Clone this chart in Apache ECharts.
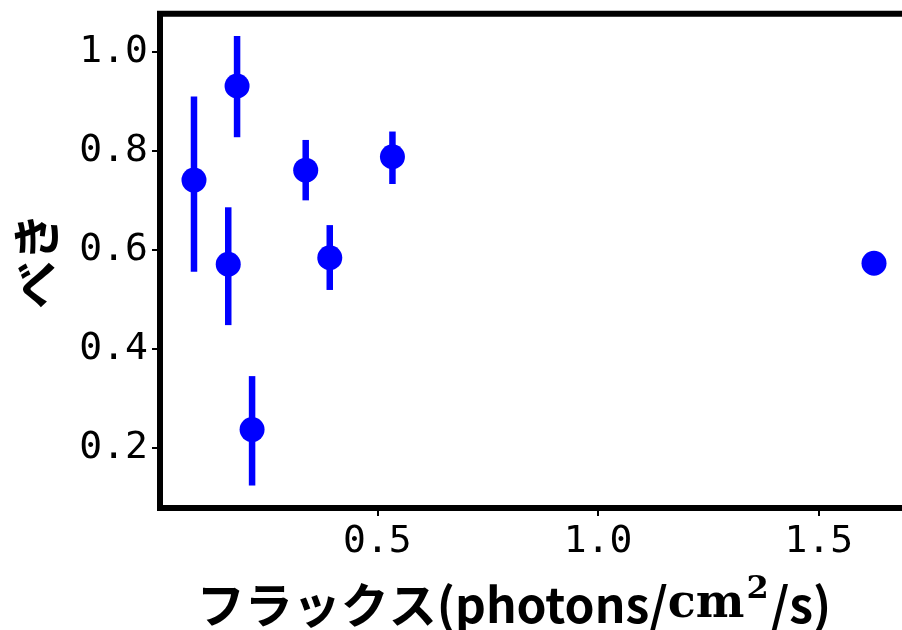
<!DOCTYPE html>
<html>
<head>
<meta charset="utf-8">
<script src="https://cdn.jsdelivr.net/npm/echarts@6/dist/echarts.min.js"></script>
<style>
  html, body { margin: 0; padding: 0; background: #fff; }
  #chart { width: 902px; height: 630px; }
</style>
</head>
<body>
<div id="chart"></div>
<script>
// Flux vs. power-law index, with vertical error bars
const flux     = [0.0844, 0.182, 0.162, 0.216, 0.3375, 0.392, 0.534, 1.625];
const index    = [0.741, 0.931, 0.571, 0.237, 0.761, 0.584, 0.788, 0.573];
const indexLow = [0.556, 0.8275, 0.448, 0.124, 0.700, 0.519, 0.733, 0.573];
const indexHigh= [0.910, 1.032, 0.686, 0.345, 0.822, 0.650, 0.839, 0.573];

const xTicks = [0.5, 1.0, 1.5];
const yTicks = [0.2, 0.4, 0.6, 0.8, 1.0];

const points = flux.map((x, i) => [x, index[i]]);
const bars = flux.map((x, i) => [x, indexLow[i], indexHigh[i]]);

const BLUE = '#0000ff';
const tickFont = { fontFamily: 'DejaVu Sans Mono', fontSize: 38, color: '#000' };

const chart = echarts.init(document.getElementById('chart'), null, { renderer: 'canvas' });
chart.setOption({
  animation: false,
  backgroundColor: '#fff',
  grid: {
    left: 160, top: 13.7, right: -6, bottom: 122,
    outerBoundsMode: 'none',
    containLabel: false,
    show: true, borderWidth: 6, borderColor: '#000', backgroundColor: 'transparent'
  },
  xAxis: {
    type: 'value',
    min: 0.0074, max: 1.702,
    axisLine: { show: false },
    splitLine: { show: false },
    axisTick: { show: true, customValues: xTicks, length: 8, lineStyle: { color: '#000', width: 2 } },
    axisLabel: Object.assign({ customValues: xTicks, margin: 15, formatter: v => v.toFixed(1) }, tickFont),
    name: '{jp|フラックス(photons/}{cm|cm}{sup|2}{jp|/s)}',
    nameLocation: 'middle',
    nameGap: 66,
    nameTextStyle: {
      padding: [0, 40, 0, 0],
      rich: {
        jp:  { fontFamily: 'Noto Sans CJK JP', fontWeight: 'bold', fontSize: 48, color: '#000' },
        cm:  { fontFamily: 'DejaVu Serif', fontWeight: 'bold', fontSize: 46, color: '#000' },
        sup: { fontFamily: 'DejaVu Serif', fontWeight: 'bold', fontSize: 32, color: '#000', verticalAlign: 'top', padding: [0, 2, 30, 2] }
      }
    }
  },
  yAxis: {
    type: 'value',
    min: 0.0786, max: 1.077,
    axisLine: { show: false },
    splitLine: { show: false },
    axisTick: { show: true, customValues: yTicks, length: 8, lineStyle: { color: '#000', width: 2 } },
    axisLabel: Object.assign({ customValues: yTicks, margin: 12, formatter: v => v.toFixed(1) }, tickFont),
    name: 'べき',
    nameLocation: 'middle',
    nameRotate: 90,
    nameGap: 100,
    nameTextStyle: { fontFamily: 'Noto Sans CJK JP', fontWeight: 'bold', fontSize: 48, color: '#000' }
  },
  series: [
    {
      type: 'custom',
      z: 2,
      data: bars,
      renderItem: (params, api) => {
        const x = api.value(0);
        const p1 = api.coord([x, api.value(1)]);
        const p2 = api.coord([x, api.value(2)]);
        return {
          type: 'line',
          shape: { x1: p1[0], y1: p1[1], x2: p2[0], y2: p2[1] },
          style: { stroke: BLUE, lineWidth: 6.5, lineCap: 'butt' }
        };
      }
    },
    {
      type: 'scatter',
      z: 3,
      data: points,
      symbol: 'circle',
      symbolSize: 25,
      itemStyle: { color: BLUE, opacity: 1 }
    }
  ]
});
</script>
</body>
</html>
